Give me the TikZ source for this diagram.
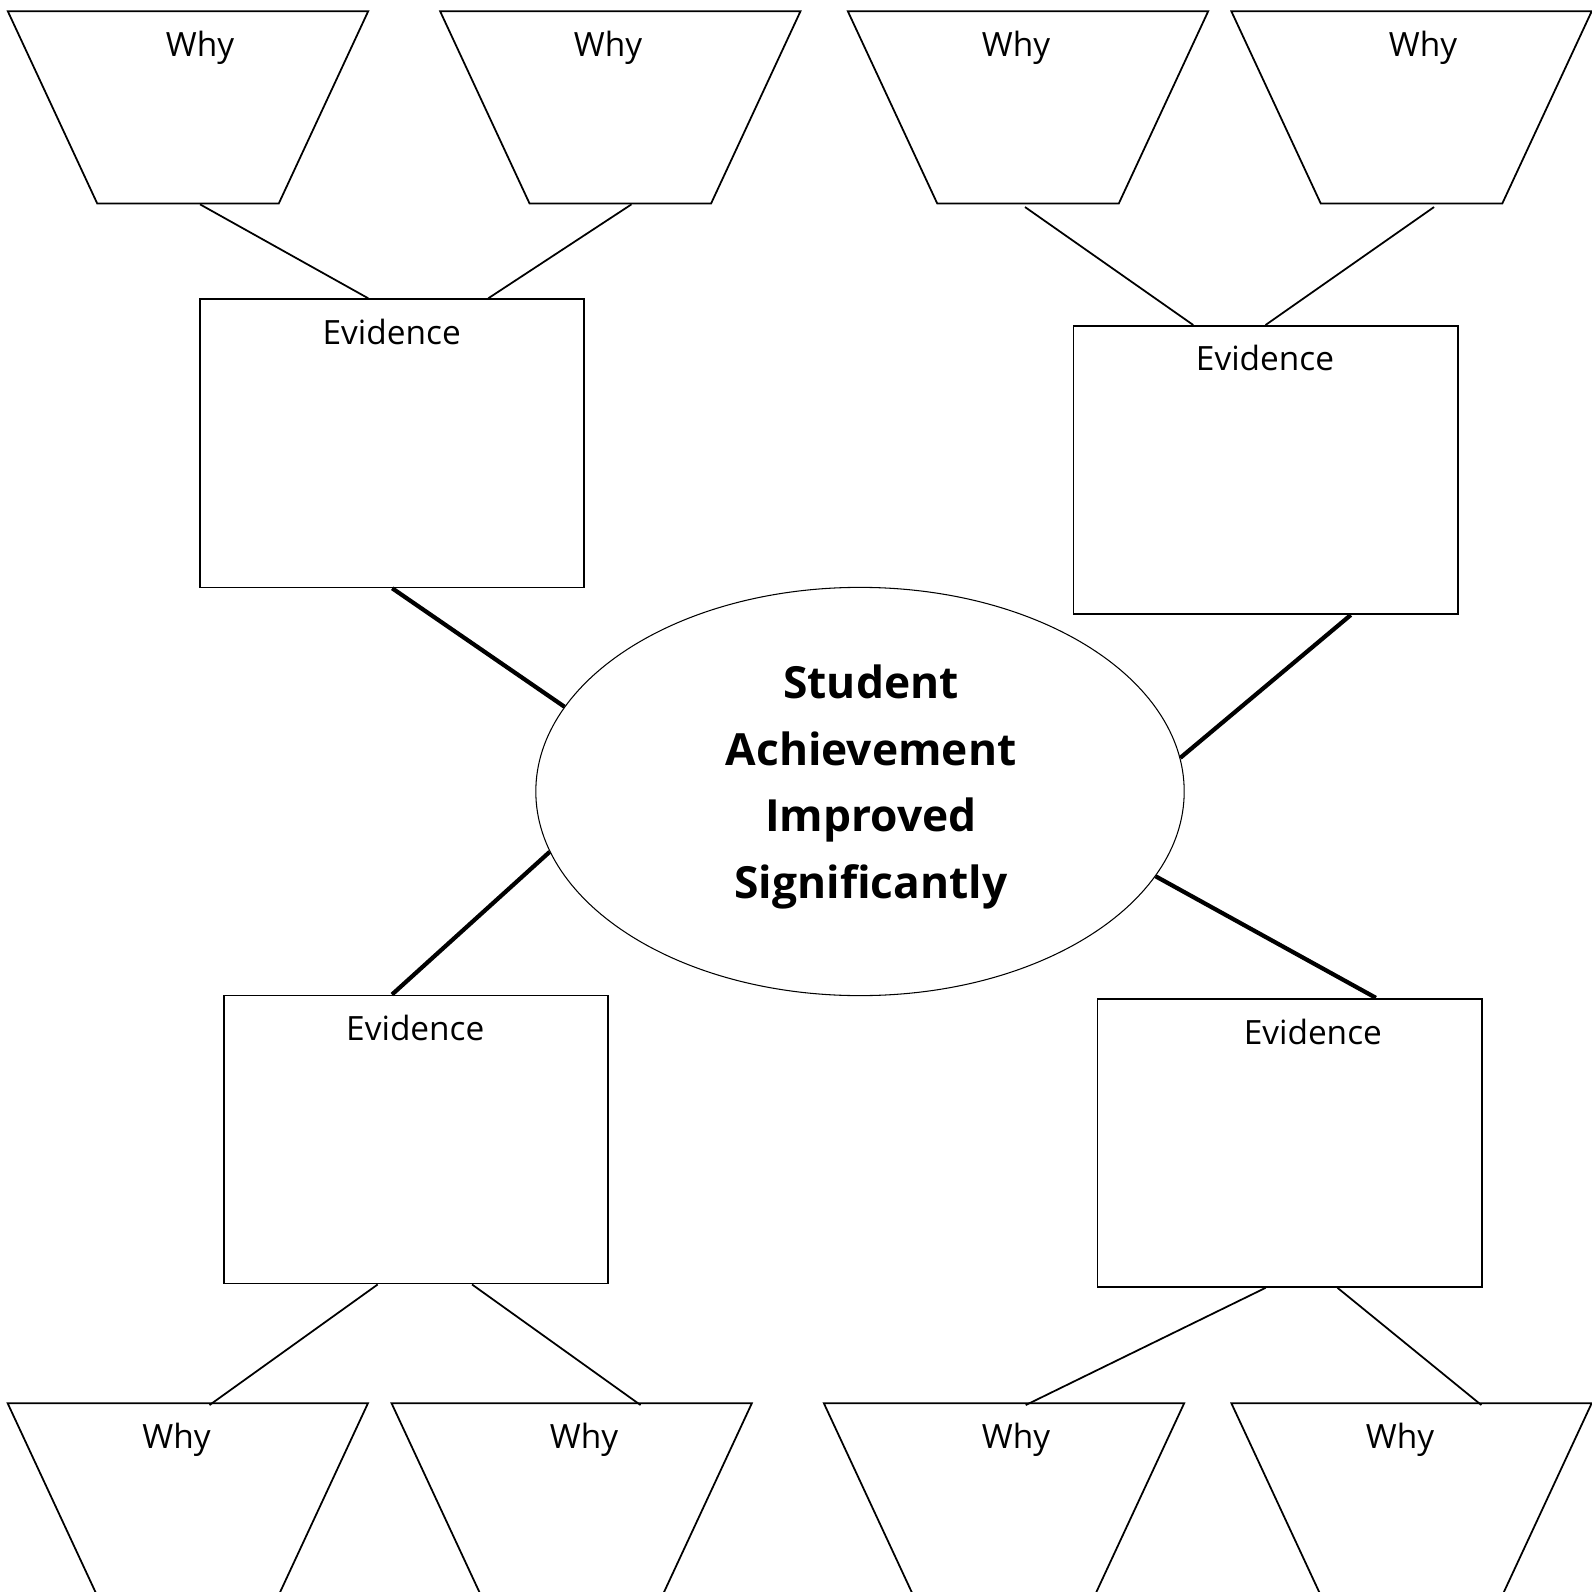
\documentclass[tikz,border=0pt]{standalone}
\usepackage{fontspec}
\setmainfont{Open Sans}
\usetikzlibrary{shapes.geometric}

\tikzset{
  why/.style={draw, line width=0.5pt, trapezium, trapezium left angle=116.2,
    trapezium right angle=116.2, trapezium stretches=true,
    minimum width=3.6cm, minimum height=1.92cm, inner sep=1pt},
  evidence/.style={draw, line width=0.5pt, rectangle,
    minimum width=3.84cm, minimum height=2.88cm, inner sep=0pt},
  goal/.style={draw, line width=0.3pt, ellipse,
    minimum width=6.48cm, minimum height=4.08cm, inner sep=0pt},
  tag/.style={anchor=base, inner sep=0pt, font=\fontsize{9.5}{11}\selectfont},
  twig/.style={line width=0.5pt},
  branch/.style={line width=1.2pt},
}

\begin{document}
\begin{tikzpicture}[x=0.01cm, y=-0.01cm]
	\useasboundingbox (0,0) rectangle (1591,1592);

	% centre
	\node[goal] (goal) at (860,791.5) {};
	\node[align=center, inner sep=0pt, font=\fontsize{12.6}{19}\selectfont\bfseries]
		(title) at (871,787) {Student\\Achievement\\Improved\\Significantly};

	% evidence boxes
	\node[evidence] (ev1) at (392.2,443.3) {};
	\node[evidence] (ev2) at (1265.5,470) {};
	\node[evidence] (ev3) at (416,1139.5) {};
	\node[evidence] (ev4) at (1289.5,1142.8) {};
	\node[tag] (et1) at (391.7,344.3) {Evidence};
	\node[tag] (et2) at (1265,371) {Evidence};
	\node[tag] (et3) at (415.3,1040.5) {Evidence};
	\node[tag] (et4) at (1312.8,1044) {Evidence};

	% why boxes, top row
	\node[why] (w1) at (188,107.4) {};
	\node[why] (w2) at (620.3,107.4) {};
	\node[why] (w3) at (1028,107.4) {};
	\node[why] (w4) at (1411.5,107.4) {};
	\node[tag] (wt1) at (200,56.7) {Why};
	\node[tag] (wt2) at (608,56.7) {Why};
	\node[tag] (wt3) at (1016,56.7) {Why};
	\node[tag] (wt4) at (1423,56.7) {Why};

	% why boxes, bottom row (cut by the page)
	\node[why] (w5) at (187.8,1499.3) {};
	\node[why] (w6) at (571.7,1499.3) {};
	\node[why] (w7) at (1004,1499.3) {};
	\node[why] (w8) at (1411.5,1499.3) {};
	\node[tag] (wt5) at (176.5,1448.3) {Why};
	\node[tag] (wt6) at (584,1448.3) {Why};
	\node[tag] (wt7) at (1016,1448.3) {Why};
	\node[tag] (wt8) at (1400,1448.3) {Why};

	% thick lines to the centre
	\draw[branch] (ev1.south) -- (goal.164.2);
	\draw[branch] ([xshift=0.852cm]ev2.south) -- (goal.6.5);
	\draw[branch] ([xshift=-0.24cm]ev3.north) -- (goal.191.6);
	\draw[branch] ([xshift=0.863cm]ev4.north) -- (goal.344.4);

	% thin lines to the whys
	\draw[twig] ([xshift=0.12cm]w1.south) -- ([xshift=-0.239cm]ev1.north);
	\draw[twig] ([xshift=0.112cm]w2.south) -- ([xshift=0.96cm]ev1.north);
	\draw[twig] ([xshift=-0.03cm, yshift=-0.027cm]w3.south) -- ([xshift=-0.722cm]ev2.north);
	\draw[twig] ([xshift=0.225cm, yshift=-0.027cm]w4.south) -- (ev2.north);
	\draw[twig] ([xshift=-0.383cm]ev3.south) -- ([xshift=0.217cm, yshift=-0.027cm]w5.north);
	\draw[twig] ([xshift=0.56cm]ev3.south) -- ([xshift=0.688cm, yshift=-0.027cm]w6.north);
	\draw[twig] ([xshift=-0.238cm]ev4.south) -- ([xshift=0.217cm, yshift=-0.027cm]w7.north);
	\draw[twig] ([xshift=0.479cm]ev4.south) -- ([xshift=0.698cm, yshift=-0.027cm]w8.north);
\end{tikzpicture}
\end{document}
